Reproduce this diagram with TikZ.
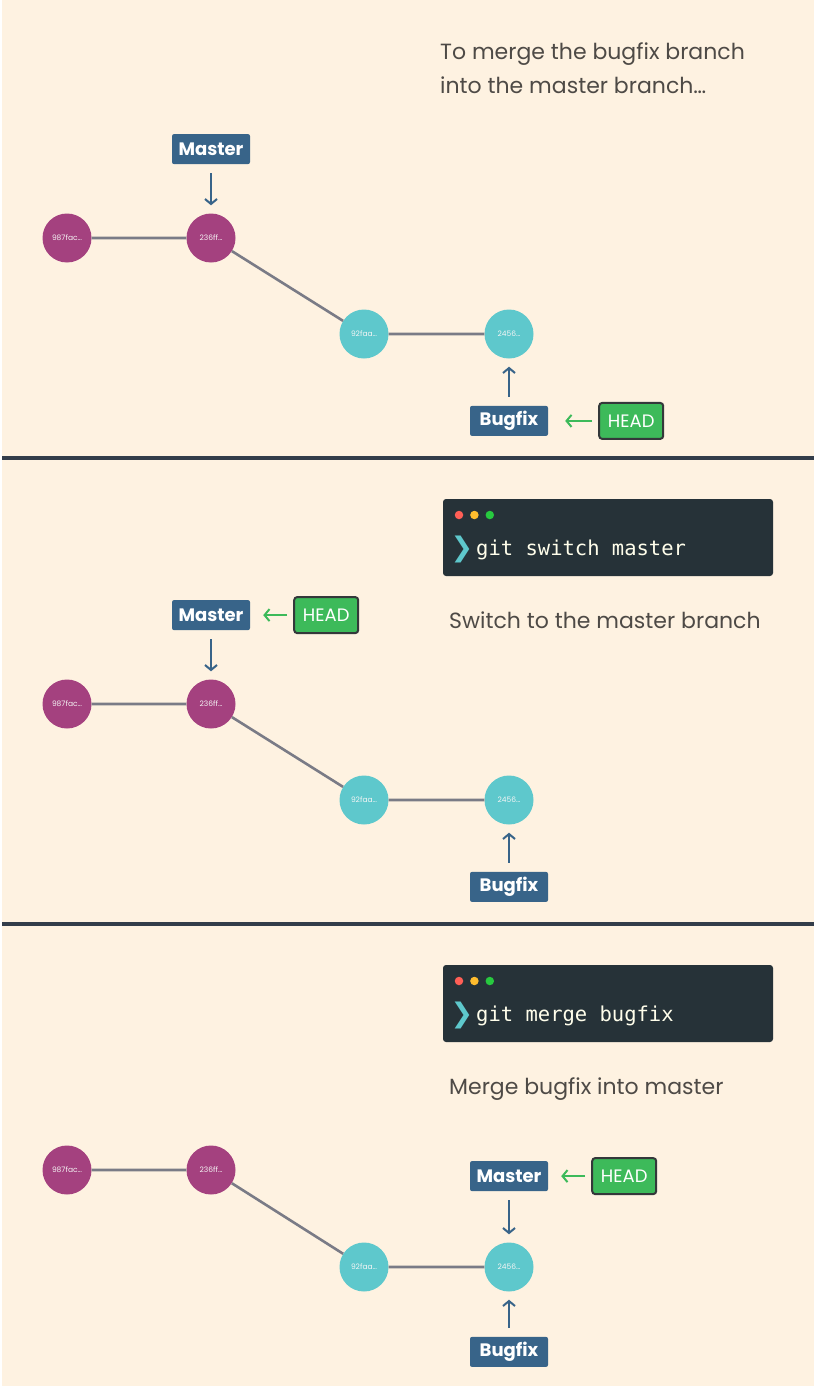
\documentclass[tikz,border=0pt]{standalone}
\usepackage{fontspec}
\setmainfont{Poppins}
\newfontfamily\termfont{DejaVu Sans Mono}
\newfontfamily\symfont{DejaVu Sans}
\usepackage{xcolor}
\usetikzlibrary{arrows.meta}
\usetikzlibrary{positioning}

\definecolor{paper}{HTML}{FEF2E1}
\definecolor{plum}{HTML}{A4417F}
\definecolor{aqua}{HTML}{5EC8CC}
\definecolor{edgegray}{HTML}{7A7B86}
\definecolor{boxblue}{HTML}{386489}
\definecolor{headgreen}{HTML}{3DBA5A}
\definecolor{headedge}{HTML}{34383A}
\definecolor{notegray}{HTML}{4E4A46}
\definecolor{termbg}{HTML}{263238}
\definecolor{rule}{HTML}{333D4A}
\definecolor{dotred}{HTML}{FF5F56}
\definecolor{dotyellow}{HTML}{FFBD2E}
\definecolor{dotgreen}{HTML}{27C93F}

\begin{document}
\begin{tikzpicture}[x=1pt, y=-1pt,
    commit/.style={circle, minimum size=49pt, inner sep=0pt, text=white!92!gray,
        font=\fontsize{7.5}{8}\selectfont},
    oldcommit/.style={commit, fill=plum},
    newcommit/.style={commit, fill=aqua},
    link/.style={draw=edgegray, line width=2.6pt},
    branch/.style={fill=boxblue, text=white, rounded corners=2pt, minimum width=78pt,
        minimum height=30pt, inner sep=0pt, font=\fontsize{18}{20}\selectfont\bfseries},
    headbox/.style={fill=headgreen, draw=headedge, line width=2pt, rounded corners=3pt,
        text=white, minimum width=64pt, minimum height=36pt, inner sep=0pt,
        font=\fontsize{18}{20}\selectfont},
    ptr/.style={-{Straight Barb[length=5pt, width=12pt]}, line width=2pt, draw=boxblue,
        shorten <=9pt, shorten >=8pt},
    headptr/.style={-{Straight Barb[length=5pt, width=12pt]}, line width=2pt, draw=headgreen,
        shorten <=6pt, shorten >=13pt},
    note/.style={anchor=base west, inner sep=0pt, text=notegray, align=left,
        font=\fontsize{22}{34}\selectfont},
    term/.style={fill=termbg, rounded corners=3pt, minimum width=330pt,
        minimum height=77pt, inner sep=0pt},
    cmd/.style={anchor=base west, inner sep=0pt, text=white!92!yellow,
        font=\termfont\fontsize{20.5}{22}\selectfont},
    chev/.style={anchor=base, inner sep=0pt, text=aqua, font=\symfont\fontsize{27}{27}\selectfont},
    dot/.style={circle, minimum size=8.5pt, inner sep=0pt},
    sep/.style={draw=rule, line width=4pt}]

    \fill[paper] (0,0) rectangle (812,1386);
    \draw[sep] (0,458) coordinate (s1) -- (812,458) coordinate (s1e);
    \draw[sep] (0,924) coordinate (s2) -- (812,924) coordinate (s2e);

    % panel 1: before the switch
    \node[note] (intro) at (438,94) {To merge the bugfix branch\\into the master branch\ldots};
    \node[oldcommit] (a1) at (65,238) {987fac\ldots};
    \node[oldcommit] (a2) at (209,238) {236ff\ldots};
    \node[newcommit] (a3) at (362,334) {92faa\ldots};
    \node[newcommit] (a4) at (507,334) {2456\ldots};
    \draw[link] (a1) -- (a2) -- (a3) -- (a4);
    \node[branch, above=49pt of a2] (master1) {Master};
    \node[branch, below=47pt of a4] (bugfix1) {Bugfix};
    \node[headbox, right=50pt of bugfix1] (head1) {HEAD}; % HEAD on bugfix
    \draw[ptr] (master1) -- (a2);
    \draw[ptr] (bugfix1) -- (a4);
    \draw[headptr, shorten >=17pt] (head1) -- (bugfix1);

    % panel 2: git switch master
    \node[term] (term2) at (606,537.5) {};
    \node[dot, fill=dotred] (r2) at (457,515) {};
    \node[dot, fill=dotyellow, right=6.5pt of r2] (y2) {};
    \node[dot, fill=dotgreen, right=6.5pt of y2] (g2) {};
    \node[chev] (p2) at (460,556) {❯};
    \node[cmd] (c2) at (474,555) {git switch master};
    \node[note] (say2) at (447,628) {Switch to the master branch};
    \node[oldcommit] (b1) at (65,704) {987fac\ldots};
    \node[oldcommit] (b2) at (209,704) {236ff\ldots};
    \node[newcommit] (b3) at (362,800) {92faa\ldots};
    \node[newcommit] (b4) at (507,800) {2456\ldots};
    \draw[link] (b1) -- (b2) -- (b3) -- (b4);
    \node[branch, above=49pt of b2] (master2) {Master};
    \node[branch, below=47pt of b4] (bugfix2) {Bugfix};
    \node[headbox, right=43pt of master2] (head2) {HEAD}; % HEAD on master
    \draw[ptr] (master2) -- (b2);
    \draw[ptr] (bugfix2) -- (b4);
    \draw[headptr] (head2) -- (master2);

    % panel 3: git merge bugfix (fast-forward)
    \node[term] (term3) at (606,1003.5) {};
    \node[dot, fill=dotred] (r3) at (457,981) {};
    \node[dot, fill=dotyellow, right=6.5pt of r3] (y3) {};
    \node[dot, fill=dotgreen, right=6.5pt of y3] (g3) {};
    \node[chev] (p3) at (460,1022) {❯};
    \node[cmd] (c3) at (474,1021) {git merge bugfix};
    \node[note] (say3) at (447,1094) {Merge bugfix into master};
    \node[oldcommit] (d1) at (65,1170) {987fac\ldots};
    \node[oldcommit] (d2) at (209,1170) {236ff\ldots};
    \node[newcommit] (d3) at (362,1267) {92faa\ldots};
    \node[newcommit] (d4) at (507,1267) {2456\ldots};
    \draw[link] (d1) -- (d2) -- (d3) -- (d4);
    \node[branch, above=51pt of d4] (master3) {Master};
    \node[branch, below=45pt of d4] (bugfix3) {Bugfix};
    \node[headbox, right=43pt of master3] (head3) {HEAD};
    \draw[ptr] (master3) -- (d4);
    \draw[ptr] (bugfix3) -- (d4);
    \draw[headptr] (head3) -- (master3);
\end{tikzpicture}
\end{document}
